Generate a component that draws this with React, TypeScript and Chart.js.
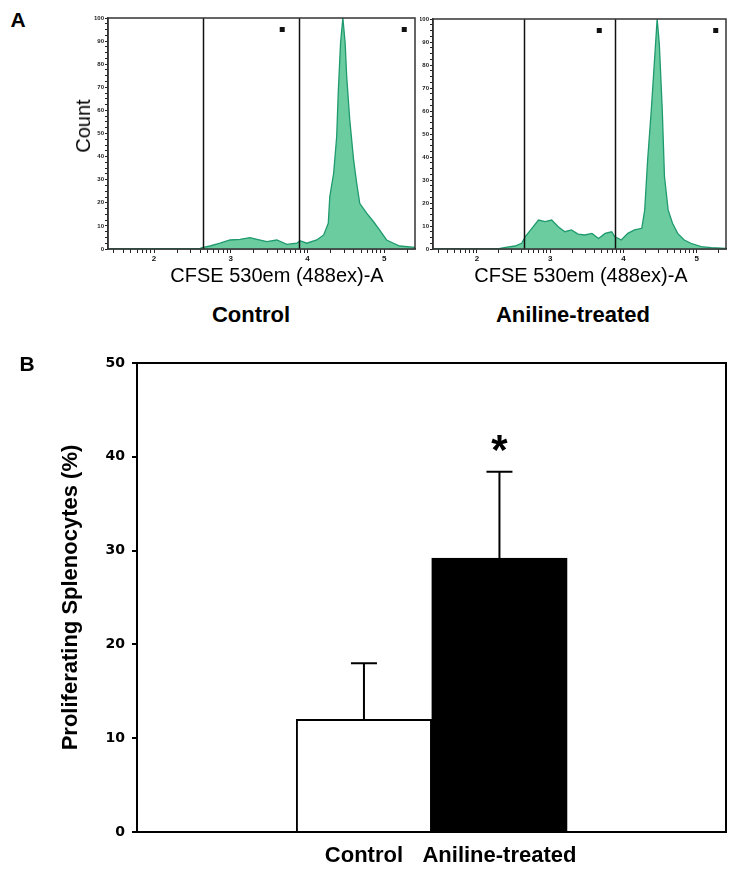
import React, { useEffect, useRef } from 'react';
import { Chart, registerables } from 'chart.js';

Chart.register(...registerables);
Chart.defaults.font.family = "'Liberation Sans', Arial, sans-serif";

// ---------- Panel A: CFSE histograms (x in log10 decades, y in % of peak) ----------
const histRange = [1.4, 5.4];
const decadeLabels = [2, 3, 4, 5];
const gatePositions = [2.64, 3.89];
const gateLabelPositions = [3.67, 5.26];

const controlHistX = [1.40, 2.60, 2.64, 2.73, 2.86, 2.99, 3.12, 3.25, 3.34, 3.47, 3.60, 3.73, 3.86, 3.90, 3.99, 4.12, 4.21, 4.27, 4.29, 4.34, 4.38, 4.40, 4.43, 4.46, 4.49, 4.51, 4.55, 4.60, 4.64, 4.68, 4.77, 4.86, 4.94, 5.03, 5.12, 5.20, 5.40];
const controlHistY = [0, 0.3, 0.7, 1.3, 2.5, 3.9, 4.2, 4.9, 4.2, 3.2, 3.9, 2.0, 2.5, 3.6, 2.5, 3.9, 6.1, 11.1, 22.7, 32.8, 48.8, 67.6, 89.2, 100, 89.2, 74.7, 55.9, 38.6, 28.5, 19.8, 15.5, 11.8, 8.2, 3.9, 2.5, 1.3, 0.7];

const anilineHistX = [1.40, 2.30, 2.39, 2.52, 2.61, 2.66, 2.75, 2.84, 2.93, 3.02, 3.11, 3.20, 3.29, 3.38, 3.47, 3.57, 3.66, 3.75, 3.84, 3.88, 3.97, 4.06, 4.15, 4.25, 4.29, 4.33, 4.38, 4.43, 4.46, 4.49, 4.53, 4.56, 4.61, 4.67, 4.74, 4.83, 4.92, 5.06, 5.20, 5.40];
const anilineHistY = [0, 0.2, 0.7, 1.3, 2.5, 5.4, 9.0, 12.6, 11.9, 12.6, 9.7, 7.5, 8.3, 6.5, 6.1, 6.8, 4.6, 6.8, 7.5, 5.4, 3.9, 6.8, 8.3, 9.0, 16.9, 38.6, 60.4, 85.0, 100, 89.0, 60.4, 31.5, 17.0, 11.2, 6.8, 3.9, 2.5, 1.0, 0.6, 0.3];

// ---------- Panel B: bar chart ----------
const barCategories = ['Control', 'Aniline-treated'];
const barMeans = [12.0, 29.2];
const barErrors = [6.0, 9.2];
const barYTicks = [0, 10, 20, 30, 40, 50];
const significance = ['', '*'];

const FONT = "'Liberation Sans', Arial, sans-serif";

function logMinorTicks(min: number, max: number) {
  const out: number[] = [];
  for (let d = Math.floor(min); d <= Math.ceil(max); d++) {
    for (let k = 1; k <= 9; k++) {
      const v = d + Math.log10(k);
      if (v >= min - 1e-9 && v <= max + 1e-9) out.push(Math.round(v * 1000) / 1000);
    }
  }
  return out;
}

const frameHist = {
  id: 'frameHist',
  afterDatasetsDraw(chart: any) {
    const { ctx, chartArea: a, scales } = chart;
    ctx.save();
    ctx.strokeStyle = '#111';
    ctx.lineWidth = 1.5;
    gatePositions.forEach((g) => {
      const x = Math.round(scales.x.getPixelForValue(g)) + 0.5;
      ctx.beginPath();
      ctx.moveTo(x, a.top);
      ctx.lineTo(x, a.bottom);
      ctx.stroke();
    });
    ctx.fillStyle = '#111';
    gateLabelPositions.forEach((g) => {
      const x = scales.x.getPixelForValue(g);
      ctx.fillRect(x - 2.5, a.top + 9, 5, 5);
    });
    ctx.strokeStyle = '#333';
    ctx.lineWidth = 1.5;
    ctx.strokeRect(a.left, a.top, a.right - a.left, a.bottom - a.top);
    ctx.restore();
  },
};

function Histogram(props: {
  xs: number[];
  ys: number[];
  left: number;
  width: number;
  yWidth: number;
  padRight: number;
  padTop: number;
}) {
  const ref = useRef<HTMLCanvasElement>(null);
  useEffect(() => {
    const minor = logMinorTicks(histRange[0], histRange[1]);
    const yTicks: number[] = [];
    for (let v = 0; v <= 100; v += 2.5) yTicks.push(v);
    const chart = new Chart(ref.current as HTMLCanvasElement, {
      type: 'line',
      data: {
        datasets: [
          {
            data: props.xs.map((x, i) => ({ x, y: props.ys[i] })),
            borderColor: '#1f9a6f',
            borderWidth: 1.3,
            backgroundColor: '#6acc9f',
            fill: 'origin',
            pointRadius: 0,
            tension: 0,
          },
        ],
      },
      options: {
        animation: false,
        responsive: false,
        events: [],
        layout: { padding: { left: 0, right: props.padRight, top: props.padTop, bottom: 0 } },
        plugins: { legend: { display: false }, tooltip: { enabled: false } },
        scales: {
          x: {
            type: 'linear',
            min: histRange[0],
            max: histRange[1],
            afterBuildTicks: (s: any) => {
              s.ticks = minor.map((v) => ({ value: v }));
            },
            afterFit: (s: any) => {
              s.height = 21;
            },
            ticks: {
              autoSkip: false,
              maxRotation: 0,
              padding: 1,
              color: '#111',
              font: { size: 8, weight: 'bold' },
              callback: (v: any) => (decadeLabels.includes(Number(v)) ? String(v) : ''),
            },
            grid: { drawOnChartArea: false, tickLength: 4, color: '#222' },
            border: { color: '#333', width: 1.5 },
          },
          y: {
            min: 0,
            max: 100,
            afterBuildTicks: (s: any) => {
              s.ticks = yTicks.map((v) => ({ value: v }));
            },
            afterFit: (s: any) => {
              s.width = props.yWidth;
            },
            ticks: {
              autoSkip: false,
              padding: 1,
              color: '#222',
              font: { size: 6, weight: 'bold' },
              callback: (v: any) => (Number(v) % 10 === 0 ? String(v) : ''),
            },
            grid: { drawOnChartArea: false, tickLength: 3, color: '#222' },
            border: { color: '#333', width: 1.5 },
          },
        },
      } as any,
      plugins: [frameHist],
    });
    return () => chart.destroy();
  }, []);
  return (
    <canvas
      ref={ref}
      width={props.width}
      height={270}
      style={{ position: 'absolute', left: props.left, top: 0, width: props.width, height: 270 }}
    />
  );
}

const barExtras = {
  id: 'barExtras',
  afterDatasetsDraw(chart: any) {
    const { ctx, chartArea: a, scales } = chart;
    ctx.save();
    ctx.strokeStyle = '#000';
    ctx.lineWidth = 2;
    barMeans.forEach((m, i) => {
      const x = scales.x.getPixelForValue(i + 1);
      const y0 = scales.y.getPixelForValue(m);
      const y1 = scales.y.getPixelForValue(m + barErrors[i]);
      ctx.beginPath();
      ctx.moveTo(x, y0);
      ctx.lineTo(x, y1);
      ctx.moveTo(x - 13, y1);
      ctx.lineTo(x + 13, y1);
      ctx.stroke();
      if (significance[i]) {
        ctx.fillStyle = '#000';
        ctx.font = `bold 42px ${FONT}`;
        ctx.textAlign = 'center';
        ctx.textBaseline = 'alphabetic';
        ctx.fillText(significance[i], x, y1 - 8);
      }
    });
    ctx.strokeRect(a.left, a.top, a.right - a.left, a.bottom - a.top);
    ctx.restore();
  },
};

function BarChart() {
  const ref = useRef<HTMLCanvasElement>(null);
  useEffect(() => {
    const chart = new Chart(ref.current as HTMLCanvasElement, {
      type: 'bar',
      data: {
        datasets: [
          {
            data: barCategories.map((c, i) => ({ x: i + 1, y: barMeans[i] })),
            backgroundColor: ['#ffffff', '#000000'],
            borderColor: '#000',
            borderWidth: 2,
            borderSkipped: 'start',
            barPercentage: 1,
            categoryPercentage: 1,
          },
        ],
      },
      options: {
        animation: false,
        responsive: false,
        events: [],
        layout: { padding: { left: 0, right: 18, top: 33, bottom: 0 } },
        plugins: { legend: { display: false }, tooltip: { enabled: false } },
        scales: {
          x: {
            type: 'linear',
            offset: false,
            min: -0.675,
            max: 3.672,
            afterBuildTicks: (s: any) => {
              s.ticks = barCategories.map((c, i) => ({ value: i + 1 }));
            },
            afterFit: (s: any) => {
              s.height = 42;
            },
            ticks: {
              autoSkip: false,
              maxRotation: 0,
              padding: 11,
              color: '#000',
              font: { size: 22, weight: 'bold' },
              callback: (v: any) => barCategories[Number(v) - 1],
            },
            grid: { display: false, drawTicks: false, offset: false },
            border: { color: '#000', width: 2 },
          },
          y: {
            min: barYTicks[0],
            max: barYTicks[barYTicks.length - 1],
            afterBuildTicks: (s: any) => {
              s.ticks = barYTicks.map((v) => ({ value: v }));
            },
            afterFit: (s: any) => {
              s.width = 137;
            },
            ticks: {
              padding: 7,
              color: '#000',
              font: { family: "'DejaVu Sans'", size: 14, weight: 'bold' },
            },
            grid: { drawOnChartArea: false, tickLength: 5, color: '#000', lineWidth: 2 },
            border: { color: '#000', width: 2 },
            title: {
              display: true,
              text: 'Proliferating Splenocytes (%)',
              color: '#000',
              font: { size: 22, weight: 'bold' },
              padding: { top: 58, bottom: 0 },
            },
          },
        },
      } as any,
      plugins: [barExtras],
    });
    return () => chart.destroy();
  }, []);
  return (
    <canvas
      ref={ref}
      width={744}
      height={544}
      style={{ position: 'absolute', left: 0, top: 330, width: 744, height: 544 }}
    />
  );
}

function Label(props: { x: number; y: number; text: string; size: number; bold?: boolean; rotate?: number }) {
  return (
    <div
      style={{
        position: 'absolute',
        left: props.x,
        top: props.y,
        transform: `translate(-50%, -50%)${props.rotate ? ` rotate(${props.rotate}deg)` : ''}`,
        fontFamily: FONT,
        fontSize: props.size,
        fontWeight: props.bold ? 'bold' : 'normal',
        lineHeight: 1,
        whiteSpace: 'nowrap',
        color: '#000',
      }}
    >
      {props.text}
    </div>
  );
}

export default function App() {
  return (
    <div style={{ position: 'absolute', left: 0, top: 0, width: 744, height: 874, background: '#fff', overflow: 'hidden' }}>
      <Histogram xs={controlHistX} ys={controlHistY} left={60} width={360} yWidth={48} padRight={5} padTop={18} />
      <Histogram xs={anilineHistX} ys={anilineHistY} left={420} width={324} yWidth={13} padRight={18} padTop={19} />
      <BarChart />
      <Label x={18} y={19} text="A" size={21} bold />
      <Label x={83} y={126} text="Count" size={20} rotate={-90} />
      <Label x={277} y={275} text="CFSE 530em (488ex)-A" size={20} />
      <Label x={581} y={275} text="CFSE 530em (488ex)-A" size={20} />
      <Label x={251} y={315} text="Control" size={22} bold />
      <Label x={573} y={315} text="Aniline-treated" size={22} bold />
      <Label x={27} y={363} text="B" size={21} bold />
    </div>
  );
}
